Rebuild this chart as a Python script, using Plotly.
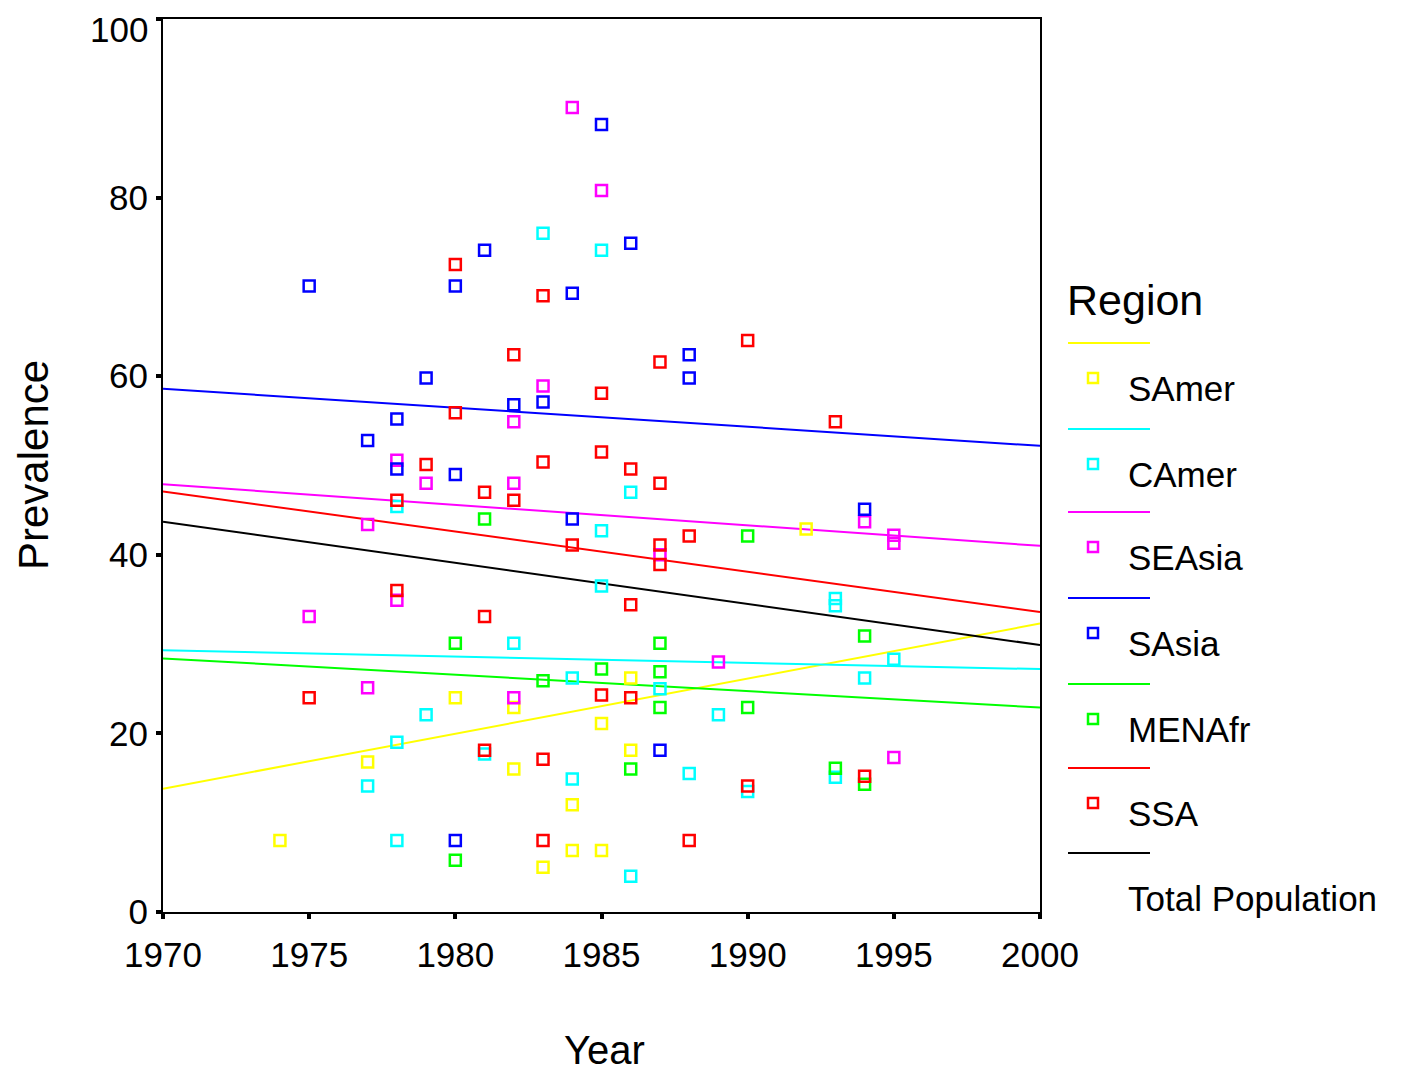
import plotly.graph_objects as go

# ---------------- data ----------------
regions = ["SAmer", "CAmer", "SEAsia", "SAsia", "MENAfr", "SSA"]
colors = ["#FFFF00", "#00FFFF", "#FF00FF", "#0000FF", "#00FF00", "#FF0000"]

samer_year = [1974, 1977, 1980, 1982, 1982, 1983, 1984, 1984, 1985, 1985, 1986, 1986, 1992]
samer_prev = [8.0, 16.8, 24.0, 22.9, 16.0, 5.0, 12.0, 6.9, 21.1, 6.9, 26.2, 18.1, 42.9]

camer_year = [1977, 1978, 1978, 1978, 1979, 1981, 1982, 1983, 1984, 1984, 1985, 1985,
              1985, 1986, 1986, 1987, 1988, 1989, 1990, 1993, 1993, 1993, 1994, 1995]
camer_prev = [14.1, 45.4, 19.0, 8.0, 22.1, 17.7, 30.1, 76.0, 26.2, 14.9, 74.1, 42.7,
              36.5, 47.0, 4.0, 25.0, 15.5, 22.1, 13.5, 35.1, 34.3, 15.1, 26.2, 28.3]

seasia_year = [1975, 1977, 1977, 1978, 1978, 1979, 1982, 1982, 1982, 1983, 1984, 1985,
               1987, 1989, 1994, 1995, 1995, 1995]
seasia_prev = [33.1, 43.4, 25.1, 50.6, 34.9, 48.0, 54.9, 48.0, 24.0, 58.9, 90.1, 80.8,
               40.0, 28.0, 43.7, 42.2, 41.3, 17.3]

sasia_year = [1975, 1977, 1978, 1978, 1979, 1980, 1980, 1980, 1981, 1982, 1983, 1984,
              1984, 1985, 1986, 1987, 1988, 1988, 1994]
sasia_prev = [70.1, 52.8, 55.2, 49.6, 59.8, 70.1, 49.0, 8.0, 74.1, 56.8, 57.1, 69.3,
              44.0, 88.2, 74.9, 18.1, 62.4, 59.8, 45.1]

menafr_year = [1980, 1980, 1981, 1983, 1985, 1986, 1987, 1987, 1987, 1990, 1990, 1993, 1994, 1994]
menafr_prev = [30.1, 5.8, 44.0, 25.9, 27.2, 16.0, 30.1, 26.9, 22.9, 42.1, 22.9, 16.1, 30.9, 14.3]

ssa_year = [1975, 1978, 1978, 1979, 1980, 1980, 1981, 1981, 1981, 1982, 1982, 1983,
            1983, 1983, 1983, 1984, 1985, 1985, 1985, 1986, 1986, 1986, 1987, 1987,
            1987, 1987, 1988, 1988, 1990, 1990, 1993, 1994]
ssa_prev = [24.0, 46.1, 36.0, 50.1, 72.5, 55.9, 47.0, 33.1, 18.1, 62.4, 46.1, 69.0,
            50.4, 17.1, 8.0, 41.1, 58.1, 51.5, 24.3, 49.6, 34.4, 24.0, 61.6, 48.0,
            41.1, 38.9, 42.1, 8.0, 64.0, 14.1, 54.9, 15.2]

# fit-line values at the axis ends (1970, 2000)
fit_years = [1970, 2000]
fit_samer = [13.8, 32.3]
fit_camer = [29.3, 27.2]
fit_seasia = [47.9, 41.0]
fit_sasia = [58.6, 52.2]
fit_menafr = [28.4, 22.9]
fit_ssa = [47.1, 33.6]
fit_total = [43.7, 29.9]

x_ticks = [1970, 1975, 1980, 1985, 1990, 1995, 2000]
y_ticks = [0, 20, 40, 60, 80, 100]

series = [
    (samer_year, samer_prev, fit_samer),
    (camer_year, camer_prev, fit_camer),
    (seasia_year, seasia_prev, fit_seasia),
    (sasia_year, sasia_prev, fit_sasia),
    (menafr_year, menafr_prev, fit_menafr),
    (ssa_year, ssa_prev, fit_ssa),
]

FONT = "Liberation Sans, Arial, sans-serif"
OFF = 8  # default page body margin
W, H = 1405 - OFF, 1076 - OFF
L, R, T, B = 163, 1040, 19, 912  # plot area in screen px

fig = go.Figure()

# fit lines
for (yr, pv, fit), name, col in zip(series, regions, colors):
    fig.add_trace(go.Scatter(x=fit_years, y=fit, mode="lines",
                             line=dict(color=col, width=2), name=name,
                             showlegend=False, hoverinfo="skip"))
fig.add_trace(go.Scatter(x=fit_years, y=fit_total, mode="lines",
                         line=dict(color="black", width=2), name="Total Population",
                         showlegend=False))

# points
for (yr, pv, fit), name, col in zip(series, regions, colors):
    fig.add_trace(go.Scatter(x=yr, y=pv, mode="markers", name=name, showlegend=False,
                             marker=dict(symbol="square-open", size=11, color=col,
                                         line=dict(color=col, width=2.5))))

# ---------------- custom legend (SPSS style) ----------------
def px(xp):
    return (xp - L) / (R - L)

def py(yp):
    return (B - yp) / (B - T)

shapes = []
annotations = []
annotations.append(dict(x=px(1065), y=py(300), xref="paper", yref="paper",
                        text="Region", showarrow=False, xanchor="left", yanchor="middle",
                        font=dict(family=FONT, size=43, color="black")))
line_y = [343, 429, 512, 598, 684, 768, 853]
for i in range(7):
    col = colors[i] if i < 6 else "black"
    label = regions[i] if i < 6 else "Total Population"
    ly = line_y[i]
    shapes.append(dict(type="line", xref="paper", yref="paper",
                       x0=px(1068), x1=px(1150), y0=py(ly), y1=py(ly),
                       line=dict(color=col, width=2)))
    if i < 6:
        my = ly + 35
        shapes.append(dict(type="rect", xref="paper", yref="paper",
                           x0=px(1088), x1=px(1098), y0=py(my + 5), y1=py(my - 5),
                           line=dict(color=col, width=2.5), fillcolor="rgba(0,0,0,0)"))
    annotations.append(dict(x=px(1126), y=py(ly + 45), xref="paper", yref="paper",
                            text=label, showarrow=False, xanchor="left", yanchor="middle",
                            font=dict(family=FONT, size=35, color="black")))

# top tick label (placed just inside the page, as in the original)
annotations.append(dict(x=px(150), y=py(OFF), xref="paper", yref="paper", text=str(y_ticks[-1]),
                        showarrow=False, xanchor="right", yanchor="top",
                        font=dict(family=FONT, size=35, color="black")))

# axis titles
annotations.append(dict(x=px(604), y=py(1050), xref="paper", yref="paper", text="Year",
                        showarrow=False, xanchor="center", yanchor="middle",
                        font=dict(family=FONT, size=40, color="black")))
annotations.append(dict(x=px(33), y=py(465), xref="paper", yref="paper", text="Prevalence",
                        showarrow=False, xanchor="center", yanchor="middle", textangle=-90,
                        font=dict(family=FONT, size=42, color="black")))

fig.update_layout(
    width=W, height=H,
    margin=dict(l=L - OFF, r=(W + OFF) - R, t=T - OFF, b=(H + OFF) - B, pad=0,
                autoexpand=False),
    paper_bgcolor="white", plot_bgcolor="white",
    showlegend=False,
    shapes=shapes, annotations=annotations,
    font=dict(family=FONT, color="black"),
)
fig.update_xaxes(range=[1970, 2000], tickvals=x_ticks, ticktext=[str(v) for v in x_ticks],
                 showgrid=False, zeroline=False, showline=True, mirror=True, automargin=False,
                 linecolor="black", linewidth=2, ticks="outside", ticklen=5, tickwidth=4,
                 tickcolor="black", tickfont=dict(family=FONT, size=35, color="black"),
                 ticklabelstandoff=6)
fig.update_yaxes(range=[-0.001, 100.001], tickvals=y_ticks,
                 ticktext=[str(v) for v in y_ticks[:-1]] + [""],
                 showgrid=False, zeroline=False, showline=True, mirror=True, automargin=False,
                 linecolor="black", linewidth=2, ticks="outside", ticklen=5, tickwidth=4,
                 tickcolor="black", tickfont=dict(family=FONT, size=35, color="black"),
                 ticklabelstandoff=1)

fig.write_html("out.html")
